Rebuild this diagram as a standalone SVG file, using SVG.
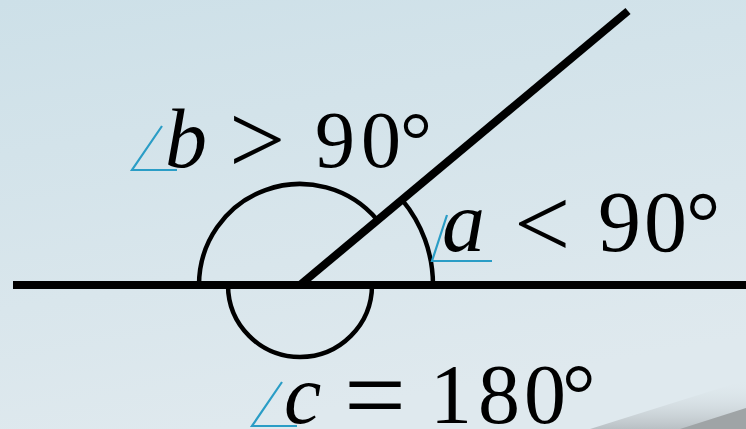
<svg xmlns="http://www.w3.org/2000/svg" width="746" height="429" viewBox="0 0 746 429">
<defs>
<linearGradient id="bg" x1="0" y1="0" x2="0.3" y2="1">
<stop offset="0" stop-color="#cde0e8"/>
<stop offset="1" stop-color="#dfe9ee"/>
</linearGradient>
<linearGradient id="curl" x1="0" y1="0" x2="0" y2="1">
<stop offset="0" stop-color="#dfe8ec" stop-opacity="0"/>
<stop offset="1" stop-color="#b9c0c4"/>
</linearGradient>
<style>
.thick{stroke:#000;stroke-width:8;fill:none}
.arc{stroke:#000;stroke-width:4.5;fill:none}
.ang{stroke:#2a9dc6;stroke-width:2.2;fill:none}
text{font-family:'Liberation Serif','Times New Roman',serif;fill:#000}
.i{font-style:italic}
</style>
</defs>
<rect width="746" height="429" fill="url(#bg)"/>
<polygon points="590,429 746,380 746,429" fill="url(#curl)"/>
<polygon points="680,429 746,408 746,429" fill="#9fa4a6"/>
<g id="connectors">
<line class="thick" x1="13" y1="285" x2="746" y2="285"/>
<line class="thick" x1="300" y1="285" x2="628" y2="11"/>
</g>
<g id="arc-b"><path class="arc" d="M199 285 A101 101 0 0 1 377.4 220.1"/></g>
<g id="arc-a"><path class="arc" d="M401.9 199.6 A133 133 0 0 1 433 285"/></g>
<g id="arc-c"><path class="arc" d="M228 285 A72 72 0 0 0 372 285"/></g>
<g id="label-b">
<polyline class="ang" points="162,126 132,170 177,170"/>
<text class="i" x="165" y="167" font-size="84">b</text>
<text x="229" y="173" font-size="100">&gt;</text>
<text x="315 361 400" y="167" font-size="80">90°</text>
</g>
<g id="label-a">
<polyline class="ang" points="447,215 432,261 492,261"/>
<text class="i" x="442" y="251" font-size="86">a</text>
<text x="514" y="257" font-size="100">&lt;</text>
<text x="598 644 686" y="251" font-size="86">90°</text>
</g>
<g id="label-c">
<polyline class="ang" points="282,382 252,426 297,426"/>
<text class="i" x="284" y="423" font-size="84">c</text>
<text x="344" y="432" font-size="110">=</text>
<text x="430 478 524 562" y="423" font-size="84">180°</text>
</g>
</svg>
